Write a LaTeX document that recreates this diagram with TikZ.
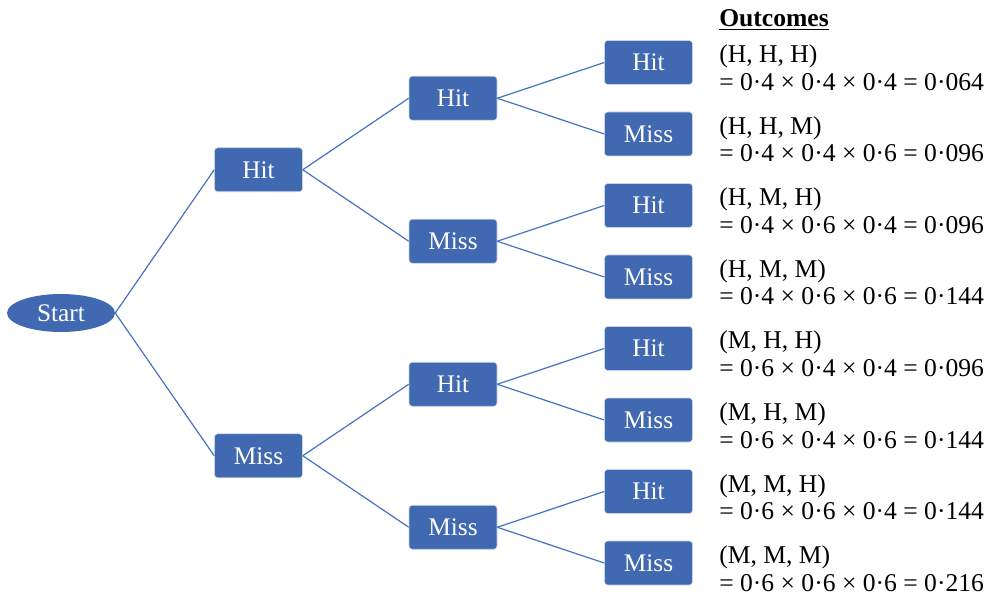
\documentclass[tikz,border=0pt]{standalone}
\usepackage{fontspec}
\setmainfont{Liberation Serif}
\usetikzlibrary{shapes.geometric}
\definecolor{boxblue}{HTML}{4169B1}
\definecolor{lineblue}{HTML}{4472C4}
\tikzset{
  bx/.style={fill=boxblue, draw=white!70!boxblue, line width=0.4pt, rounded corners=2.5pt, minimum width=66pt, minimum height=33pt, inner sep=0pt, text=white, font=\fontsize{19}{21}\selectfont},
  st/.style={ellipse, fill=boxblue, minimum width=81pt, minimum height=28.5pt, inner sep=0pt, text=white, font=\fontsize{19}{21}\selectfont},
  br/.style={draw=lineblue, line width=0.9pt},
  outtxt/.style={anchor=base west, inner sep=0pt, font=\fontsize{19.2}{21}\selectfont}
}
\begin{document}
\begin{tikzpicture}[x=0.75pt,y=-0.75pt]
\useasboundingbox (0,0) rectangle (989,595);
\node[st] (s) at (61,313) {Start};
\node[bx] (h) at (258.5,169.75) {Hit};
\node[bx] (m) at (258.5,455.75) {Miss};
\node[bx] (hh) at (453,98.25) {Hit};
\node[bx] (hm) at (453,241.25) {Miss};
\node[bx] (mh) at (453,384.25) {Hit};
\node[bx] (mm) at (453,527.25) {Miss};
\node[bx] (hhh) at (648.5,62.5) {Hit};
\node[bx] (hhm) at (648.5,134) {Miss};
\node[bx] (hmh) at (648.5,205.5) {Hit};
\node[bx] (hmm) at (648.5,277) {Miss};
\node[bx] (mhh) at (648.5,348.5) {Hit};
\node[bx] (mhm) at (648.5,420) {Miss};
\node[bx] (mmh) at (648.5,491.5) {Hit};
\node[bx] (mmm) at (648.5,563) {Miss};
\foreach \a/\b in {s/h,s/m,h/hh,h/hm,m/mh,m/mm,hh/hhh,hh/hhm,hm/hmh,hm/hmm,mh/mhh,mh/mhm,mm/mmh,mm/mmm}
  \draw[br] (\a.east) -- (\b.west);
\node[outtxt] (title) at (719,27) {\textbf{\underline{Outcomes}}};
\foreach \n/\y/\lab/\calc in {
  a/62.5/{(H, H, H)}/{= 0·4 × 0·4 × 0·4 = 0·064},
  b/134/{(H, H, M)}/{= 0·4 × 0·4 × 0·6 = 0·096},
  c/205.5/{(H, M, H)}/{= 0·4 × 0·6 × 0·4 = 0·096},
  d/277/{(H, M, M)}/{= 0·4 × 0·6 × 0·6 = 0·144},
  e/348.5/{(M, H, H)}/{= 0·6 × 0·4 × 0·4 = 0·096},
  f/420/{(M, H, M)}/{= 0·6 × 0·4 × 0·6 = 0·144},
  g/491.5/{(M, M, H)}/{= 0·6 × 0·6 × 0·4 = 0·144},
  k/563/{(M, M, M)}/{= 0·6 × 0·6 × 0·6 = 0·216}}
{
  \node[outtxt] (o\n1) at (719,\y+0.5) {\lab};
  \node[outtxt] (o\n2) at (719,\y+28) {\calc};
}
\end{tikzpicture}
\end{document}
